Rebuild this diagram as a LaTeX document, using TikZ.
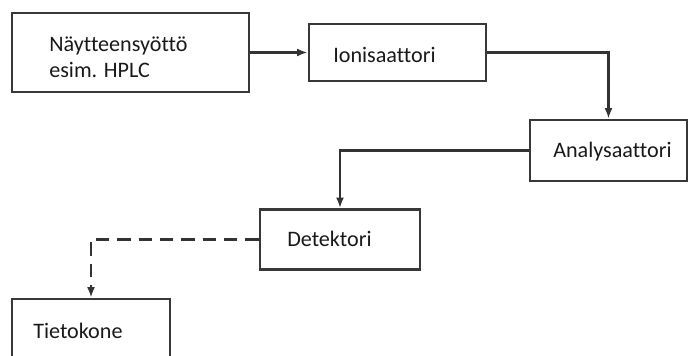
\documentclass[tikz,border=0pt]{standalone}
\usepackage{fontspec}
\setmainfont{Carlito}[Ligatures={NoCommon}]
\usetikzlibrary{arrows.meta}
\begin{document}
\begin{tikzpicture}[x=0.75pt,y=-0.75pt,
  box/.style={draw=black!78,line width=1.9pt,rectangle,inner sep=0pt},
  lbl/.style={anchor=base west,inner sep=0pt,font=\fontsize{16.6}{19}\selectfont,text=black!90},
  conn/.style={draw=black!80,line width=1.6pt,-{Latex[length=8pt,width=6pt]}}]
\useasboundingbox (0,0) rectangle (689,356);
\clip (0,0) rectangle (689,356);
\node[box,minimum width=237*0.75pt,minimum height=79*0.75pt] (b1) at (130.5,52.5) {};
\node[box,minimum width=177*0.75pt,minimum height=57*0.75pt] (b2) at (397.5,52.5) {};
\node[box,minimum width=157*0.75pt,minimum height=61*0.75pt] (b3) at (608.5,150.5) {};
\node[box,minimum width=160*0.75pt,minimum height=60*0.75pt] (b4) at (340,239.5) {};
\node[box,minimum width=158*0.75pt,minimum height=80*0.75pt] (b5) at (91,339) {};
\node[lbl] (t1a) at (49,52) {Näytteensyöttö};
\node[lbl] (t1b) at (49,78) {esim. HPLC};
\node[lbl] (t2) at (333,63) {Ionisaattori};
\node[lbl] (t3) at (553,158) {Analysaattori};
\node[lbl] (t4) at (287,246) {Detektori};
\node[lbl] (t5) at (33,338) {Tietokone};
\draw[conn] (b1.east) -- (b2.west);
\draw[conn] (b2.east) -| (b3.north);
\draw[conn] (b3.west) -| (b4.north);
\draw[conn,dash pattern=on 10pt off 6pt] (b4.west) -| (b5.north);
\end{tikzpicture}
\end{document}
